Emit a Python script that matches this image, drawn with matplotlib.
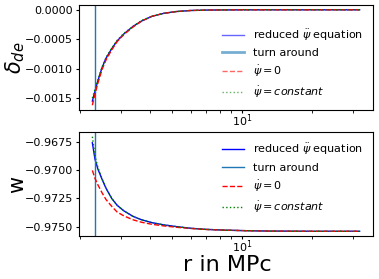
import numpy as np
import matplotlib
matplotlib.use("Agg")
import matplotlib.pyplot as plt

# radius in MPc
r = [2.27, 2.33, 2.4, 2.5, 2.6, 2.75, 2.9, 3.1, 3.4, 3.7, 4.1, 4.6, 5.2, 6.0, 7.0, 8.5, 10.5, 13.0, 16.0, 20.0, 25.0, 32.0]
r_turn = 2.33

# density contrast of dark energy
delta_reduced = [-0.00155, -0.00138, -0.00120, -0.00098, -0.00082, -0.00066, -0.00053, -0.00041, -0.00028, -0.00019, -0.00011, -0.00006, -0.000030, -0.000012, -0.000005, -0.000002, 0.0, 0.0, 0.0, 0.0, 0.0, 0.0]
delta_psi0 = [-0.00162, -0.00143, -0.00124, -0.00101, -0.00085, -0.00068, -0.00054, -0.00042, -0.00029, -0.00019, -0.00011, -0.00006, -0.000030, -0.000012, -0.000005, -0.000002, 0.0, 0.0, 0.0, 0.0, 0.0, 0.0]
delta_const = [-0.00150, -0.00135, -0.00118, -0.00097, -0.00081, -0.00065, -0.00052, -0.00040, -0.00028, -0.00018, -0.00011, -0.00006, -0.000030, -0.000012, -0.000005, -0.000002, 0.0, 0.0, 0.0, 0.0, 0.0, 0.0]

# equation of state
w_reduced = [-0.96754, -0.96900, -0.96990, -0.97080, -0.97160, -0.97250, -0.97310, -0.97360, -0.97410, -0.97440, -0.97465, -0.97485, -0.97500, -0.97515, -0.97525, -0.97532, -0.97537, -0.97540, -0.97541, -0.97542, -0.97542, -0.97542]
w_psi0 = [-0.97000, -0.97070, -0.97130, -0.97200, -0.97260, -0.97320, -0.97370, -0.97405, -0.97440, -0.97462, -0.97480, -0.97494, -0.97506, -0.97517, -0.97526, -0.97532, -0.97537, -0.97540, -0.97541, -0.97542, -0.97542, -0.97542]
w_const = [-0.96700, -0.96870, -0.96975, -0.97075, -0.97158, -0.97249, -0.97310, -0.97360, -0.97410, -0.97440, -0.97465, -0.97485, -0.97500, -0.97515, -0.97525, -0.97532, -0.97537, -0.97540, -0.97541, -0.97542, -0.97542, -0.97542]

fig = plt.figure(figsize=(3.79, 2.79), dpi=100)
ax1 = fig.add_axes([0.2084, 0.6057, 0.7757, 0.3763])
ax2 = fig.add_axes([0.2084, 0.1541, 0.7757, 0.3728], sharex=ax1)

for ax, ys in ((ax1, (delta_reduced, delta_psi0, delta_const)),
               (ax2, (w_reduced, w_psi0, w_const))):
    ax.semilogx(r, ys[0], color="blue", lw=1, label=r"reduced $\ddot{\psi}$ equation")
    ax.axvline(r_turn, color="C0", lw=1, label="turn around")
    ax.semilogx(r, ys[1], color="red", ls="--", lw=1, label=r"$\dot{\psi}=0$")
    ax.semilogx(r, ys[2], color="green", ls=":", lw=1, label=r"$\dot{\psi}=constant$")
    ax.tick_params(labelsize=8, length=2.5, pad=2)
    ax.tick_params(axis="x", which="both", length=2, pad=0)

ax1.tick_params(labelbottom=True)
ax1.set_yticks([0.0, -0.0005, -0.0010, -0.0015])
ax1.set_yticklabels(["0.0000", "\u22120.0005", "\u22120.0010", "\u22120.0015"])
ax2.set_yticks([-0.9675, -0.9700, -0.9725, -0.9750])
ax2.set_yticklabels(["\u22120.9675", "\u22120.9700", "\u22120.9725", "\u22120.9750"])

ax1.set_ylabel(r"$\delta_{de}$", fontsize=15)
ax1.yaxis.set_label_coords(-0.178, 0.5)
ax2.set_ylabel("w", fontsize=15)
ax2.yaxis.set_label_coords(-0.175, 0.5)
ax2.set_xlabel("r in MPc", fontsize=16)
ax2.xaxis.set_label_coords(0.505, -0.18)

leg1 = ax1.legend(loc="lower right", fontsize=8, frameon=False)
for h in leg1.get_lines():
    h.set_alpha(0.6)
leg1.get_lines()[1].set_linewidth(2)
ax2.legend(loc="upper right", fontsize=8, frameon=False)

fig.savefig("out.png", dpi=100)
